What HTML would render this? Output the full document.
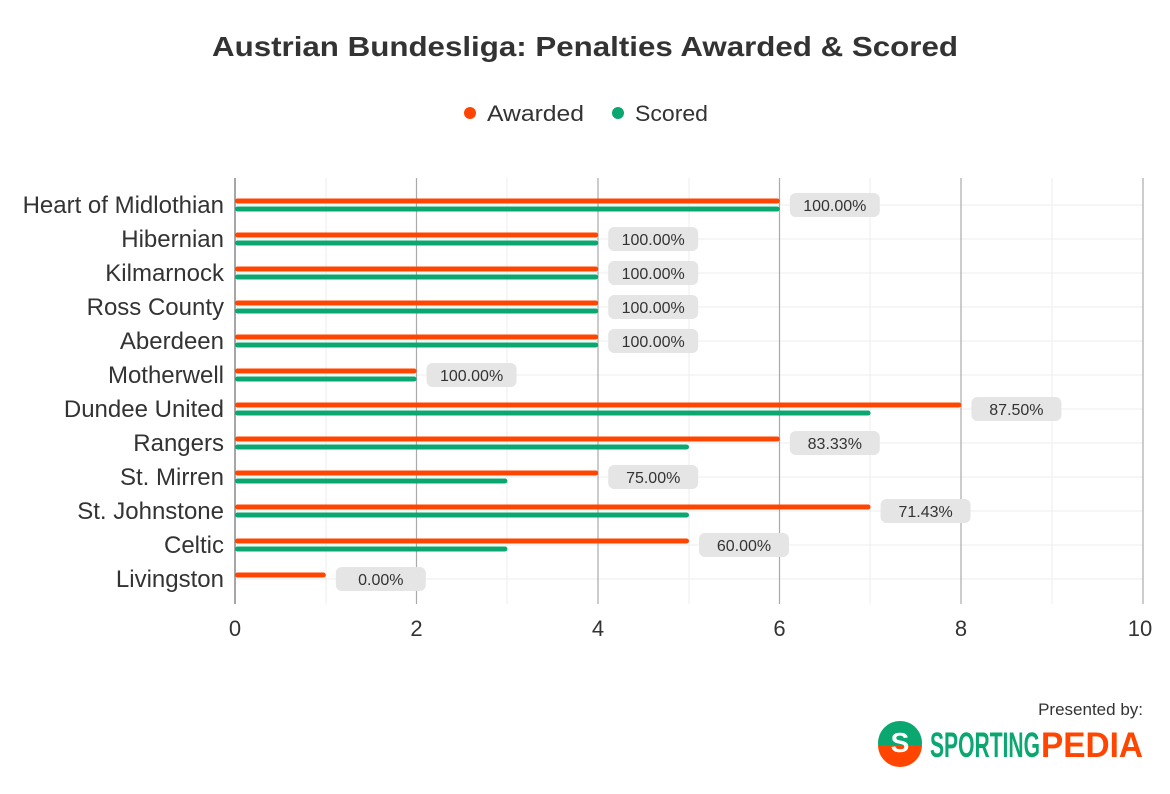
<!DOCTYPE html>
<html><head><meta charset="utf-8"><style>
body{margin:0;background:#fff;width:1170px;height:789px;overflow:hidden}
</style></head><body>
<svg width="1170" height="789" xmlns="http://www.w3.org/2000/svg" font-family="Liberation Sans, sans-serif">
<text x="212" y="56" font-size="28" font-weight="bold" fill="#333" textLength="746" lengthAdjust="spacingAndGlyphs">Austrian Bundesliga: Penalties Awarded &amp; Scored</text>
<circle cx="470" cy="113" r="6" fill="#ff4500"/>
<text x="487" y="121" font-size="22" fill="#333" textLength="97" lengthAdjust="spacingAndGlyphs">Awarded</text>
<circle cx="618" cy="113" r="6" fill="#0aa870"/>
<text x="635" y="121" font-size="22" fill="#333" textLength="73" lengthAdjust="spacingAndGlyphs">Scored</text>
<g stroke="#ececec" stroke-width="1">
<line x1="235" x2="1143" y1="205" y2="205"/><line x1="235" x2="1143" y1="239" y2="239"/><line x1="235" x2="1143" y1="273" y2="273"/><line x1="235" x2="1143" y1="307" y2="307"/><line x1="235" x2="1143" y1="341" y2="341"/><line x1="235" x2="1143" y1="375" y2="375"/><line x1="235" x2="1143" y1="409" y2="409"/><line x1="235" x2="1143" y1="443" y2="443"/><line x1="235" x2="1143" y1="477" y2="477"/><line x1="235" x2="1143" y1="511" y2="511"/><line x1="235" x2="1143" y1="545" y2="545"/><line x1="235" x2="1143" y1="579" y2="579"/>
<line x1="326" x2="326" y1="178" y2="604"/><line x1="507" x2="507" y1="178" y2="604"/><line x1="689" x2="689" y1="178" y2="604"/><line x1="870" x2="870" y1="178" y2="604"/><line x1="1052" x2="1052" y1="178" y2="604"/>
</g>
<g stroke="#aaa" stroke-width="1.2">
<line x1="416.5" x2="416.5" y1="178" y2="604"/><line x1="598" x2="598" y1="178" y2="604"/><line x1="779.5" x2="779.5" y1="178" y2="604"/><line x1="961" x2="961" y1="178" y2="604"/><line x1="1143" x2="1143" y1="178" y2="604"/>
</g>
<line x1="235" x2="235" y1="178" y2="604" stroke="#888" stroke-width="1.5"/>
<g id="rows" font-size="24" fill="#333"></g>
<g font-size="22" fill="#333" text-anchor="middle">
<text x="235" y="636">0</text><text x="416.5" y="636">2</text><text x="598" y="636">4</text><text x="779.5" y="636">6</text><text x="961" y="636">8</text><text x="1140" y="636">10</text>
</g>
<text x="1143" y="715" text-anchor="end" font-size="17" fill="#333">Presented by:</text>
<g transform="translate(900,743)">
<circle cx="0" cy="0" r="22" fill="#0aa870"/>
<path d="M-22,2 A22,22 0 0 0 22,2 Z" fill="#ff4500"/>
<text x="0" y="9" text-anchor="middle" font-size="28" font-weight="bold" fill="#fff">S</text>
</g>
<text x="930" y="757" font-size="35" font-weight="bold" fill="#0aa870" textLength="110" lengthAdjust="spacingAndGlyphs">SPORTING</text>
<text x="1041" y="757" font-size="35" font-weight="bold" fill="#ff4500" textLength="102" lengthAdjust="spacingAndGlyphs">PEDIA</text>
</svg>
<script>
var d=[["Heart of Midlothian",6,6,"100.00%"],["Hibernian",4,4,"100.00%"],["Kilmarnock",4,4,"100.00%"],["Ross County",4,4,"100.00%"],["Aberdeen",4,4,"100.00%"],["Motherwell",2,2,"100.00%"],["Dundee United",8,7,"87.50%"],["Rangers",6,5,"83.33%"],["St. Mirren",4,3,"75.00%"],["St. Johnstone",7,5,"71.43%"],["Celtic",5,3,"60.00%"],["Livingston",1,0,"0.00%"]];
var s="",u=90.8;
d.forEach(function(r,i){var c=205+34*i;
s+='<text x="224" y="'+(c+8)+'" text-anchor="end">'+r[0]+'</text>';
s+='<rect x="235" y="'+(c-6.5)+'" width="'+r[1]*u+'" height="5" rx="2.5" fill="#ff4500"/>';
if(r[2]>0)s+='<rect x="235" y="'+(c+1.5)+'" width="'+r[2]*u+'" height="5" rx="2.5" fill="#0aa870"/>';
var px=235+Math.max(r[1],r[2])*u+10;
s+='<rect x="'+px+'" y="'+(c-12)+'" width="90" height="24" rx="6" fill="#e5e5e5"/>';
s+='<text x="'+(px+45)+'" y="'+(c+6)+'" text-anchor="middle" font-size="16">'+r[3]+'</text>';});
document.getElementById("rows").innerHTML=s;
</script>
</body></html>
